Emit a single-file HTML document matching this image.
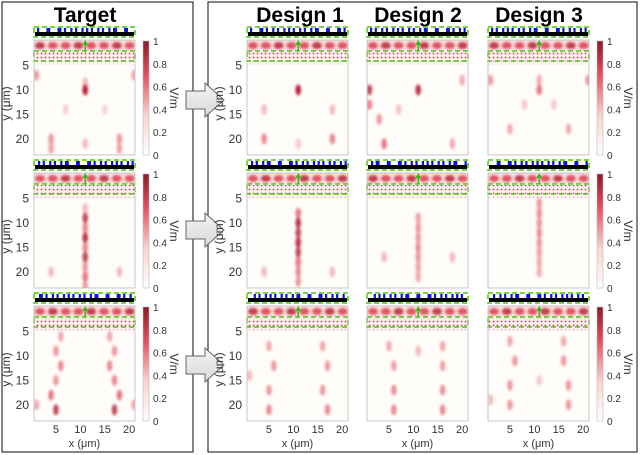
<!DOCTYPE html>
<html><head><meta charset="utf-8"><style>
body{margin:0;background:#fff;}
svg{display:block;font-family:"Liberation Sans",Arial,sans-serif;}
</style></head><body>
<svg id="fig" width="640" height="455" viewBox="0 0 640 455">
<defs>
<filter id="blur" x="-50%" y="-50%" width="200%" height="200%"><feGaussianBlur stdDeviation="1.4"/></filter>
<linearGradient id="cbg" x1="0" y1="1" x2="0" y2="0">
<stop offset="0" stop-color="#ffffff"/><stop offset="0.35" stop-color="#f8d4cf"/><stop offset="0.7" stop-color="#e45060"/><stop offset="1" stop-color="#8b1a2a"/></linearGradient>
<pattern id="dots" width="4" height="4" patternUnits="userSpaceOnUse"><rect width="4" height="4" fill="#fdf0ee"/><circle cx="1.5" cy="1.5" r="0.9" fill="#d93a48"/></pattern>
<linearGradient id="arr" x1="0" y1="0" x2="0" y2="1"><stop offset="0" stop-color="#f4f4f4"/><stop offset="1" stop-color="#d8d8d8"/></linearGradient>
</defs>
<rect x="2" y="2" width="191" height="450" fill="none" stroke="#333" stroke-width="1.2"/>
<rect x="208" y="2" width="429" height="450" fill="none" stroke="#333" stroke-width="1.2"/>
<g id="main"></g>
</svg>
<script>
// ---- data ----
const columnTitles = ["Target","Design 1","Design 2","Design 3"];
const yTicks = [5,10,15,20];
const xTicks = [5,10,15,20];
const cbTicks = [0,0.2,0.4,0.6,0.8,1];
// hotspot data per panel: [x um, y um, intensity]
const spotsTarget1 = [[11,10,1],[11,8.5,0.3],[1,7,0.5],[21,7,0.4],[4,20,0.5],[18,20,0.5],[4,22,0.45],[18,22,0.45],[11,21,0.3],[7,14,0.15],[15,14,0.15]];
const spotsTarget2 = [[11,9,0.8],[11,11,0.6],[11,13,0.9],[11,15,0.6],[11,17,0.8],[11,19,0.5],[11,21,0.7],[11,23,0.5],[11,7,0.3],[4,20,0.3],[18,20,0.3]];
const spotsTarget3 = [[6,6,0.4],[5,9,0.5],[6,12,0.6],[5,15,0.5],[4,18,0.7],[5,21,0.8],[16,6,0.4],[17,9,0.5],[16,12,0.6],[17,15,0.6],[18,18,0.7],[17,21,0.8],[1,20,0.4],[21,20,0.4]];
const spotsD1r1 = [[11,10,1],[4,20,0.6],[18,20,0.6],[4,14,0.3],[18,14,0.3],[11,21,0.2]];
const spotsD2r1 = [[11,10,0.9],[1,10,0.8],[1,13,0.6],[3,16,0.5],[4,21,0.7],[18,21,0.4],[20,8,0.4],[7,14,0.25]];
const spotsD3r1 = [[11,10,0.7],[11,8,0.4],[1,8,0.5],[21,8,0.5],[5,18,0.4],[17,18,0.4],[8,13,0.2],[14,13,0.2]];
const spotsD1r2 = [[11,8,0.7],[11,10,0.9],[11,12,0.8],[11,14,0.9],[11,16,0.8],[11,18,0.7],[11,20,0.6],[11,22,0.5],[4,20,0.3],[18,20,0.3]];
const spotsD2r2 = [[11,9,0.45],[11,11,0.5],[11,13,0.5],[11,15,0.55],[11,17,0.5],[11,19,0.45],[11,21,0.4],[4,17,0.3],[18,17,0.3]];
const spotsD3r2 = [[11,6,0.5],[11,8,0.55],[11,10,0.5],[11,12,0.55],[11,14,0.5],[11,16,0.45],[11,18,0.4],[11,20,0.35]];
const spotsD1r3 = [[5,8,0.4],[6,12,0.5],[5,17,0.5],[5,21,0.6],[16,8,0.4],[17,12,0.5],[16,17,0.5],[17,21,0.6],[1,14,0.3]];
const spotsD2r3 = [[5,8,0.4],[6,12,0.45],[6,17,0.55],[6,21,0.6],[16,8,0.4],[16,12,0.45],[16,17,0.55],[16,21,0.6],[11,9,0.3]];
const spotsD3r3 = [[5,7,0.4],[6,11,0.5],[5,16,0.5],[5,20,0.5],[16,7,0.4],[16,11,0.5],[17,16,0.5],[17,20,0.5],[1,19,0.3],[11,15,0.2]];
const panels = [
 [spotsTarget1,spotsD1r1,spotsD2r1,spotsD3r1],
 [spotsTarget2,spotsD1r2,spotsD2r2,spotsD3r2],
 [spotsTarget3,spotsD1r3,spotsD2r3,spotsD3r3]];

const NS="http://www.w3.org/2000/svg";
const main=document.getElementById('main');
function mk(tag,attrs,parent,text){const e=document.createElementNS(NS,tag);for(const k in attrs)e.setAttribute(k,attrs[k]);if(text!==undefined)e.textContent=text;(parent||main).appendChild(e);return e;}

const colX=[34,247,367,488], PW=101, PH=115;
const rowY=[40,173,306];
const xDom=[0.5,21.2], yDom=[-0.2,23.3];
function sx(c,v){return colX[c]+(v-xDom[0])/(xDom[1]-xDom[0])*PW;}
function sy(r,v){return rowY[r]+(v-yDom[0])/(yDom[1]-yDom[0])*PH;}
const titleX=[85,300,418,539];

columnTitles.forEach((t,c)=>{
  const el=mk('text',{x:titleX[c],y:22,'text-anchor':'middle','font-size':'21','font-weight':'bold',fill:'#000'},main,t);
  
  
});

[100,230,365].forEach((cy,i)=>{
  const a=mk('path',{d:`M186 ${cy-9} H205 V${cy-17} L224 ${cy} L205 ${cy+17} V${cy+9} H186 Z`,fill:'url(#arr)',stroke:'#666','stroke-width':'1'});
  
  
});

for(let r=0;r<3;r++){
  for(let c=0;c<4;c++){
    const g=mk('g',{});
    
    
    const x0=colX[c], y0=rowY[r];
    const sY=y0-13;
    const bar=mk('rect',{x:x0+1,y:sY+5,width:PW-2,height:4,fill:'#000'},g);
    
    
    for(let i=0;i<26;i++){
      const bx=x0+3+i*3.7+((i*7+c*3+r)%3);
      if(((i*5+c+r*2)%7)<5) mk('rect',{x:bx,y:sY+1,width:2.2,height:4,fill:'#1010e0'},g);
    }
    mk('rect',{x:x0,y:sY,width:PW,height:10,fill:'none',stroke:'#4cc414','stroke-width':'1.5','stroke-dasharray':'5,3'},g);
    mk('rect',{x:x0,y:y0,width:PW,height:PH,fill:'#fffdf9'},g);
    const clip=mk('clipPath',{id:'cl'+r+c},g);
    mk('rect',{x:x0,y:y0,width:PW,height:PH},clip);
    const inner=mk('g',{'clip-path':'url(#cl'+r+c+')'},g);
    mk('rect',{x:x0,y:y0,width:PW,height:11,fill:'#fbe2e0'},inner);
    const bg=mk('g',{filter:'url(#blur)'},inner);
    for(let i=0;i<8;i++){
      mk('ellipse',{cx:x0+6+i*12.8,cy:y0+5.5,rx:5,ry:3.5,fill:((i+r+c)%3===0?'#b81e34':'#dc3a4c'),opacity:0.85},bg);
    }
    mk('rect',{x:x0,y:y0+12,width:PW,height:9,fill:'url(#dots)'},inner);
    mk('rect',{x:x0,y:y0+21,width:PW,height:4,fill:'url(#dots)',opacity:0.4},inner);
    const sg=mk('g',{filter:'url(#blur)'},inner);
    panels[r][c].forEach(p=>{
      const e=mk('ellipse',{cx:sx(c,p[0]),cy:sy(r,p[1]),rx:2.8,ry:5.5,fill:p[2]>0.75?'#b3162e':'#e04050','fill-opacity':Math.min(1,p[2]*0.85+0.1)},sg);
      
      
    });
    mk('rect',{x:x0,y:y0+11,width:PW,height:10,fill:'none',stroke:'#4cc414','stroke-width':'1.5','stroke-dasharray':'5,3'},g);
    const mx=sx(c,11);
    mk('line',{x1:mx,y1:y0+11,x2:mx,y2:y0+3,stroke:'#3cb814','stroke-width':'1.5'},g);
    mk('path',{d:`M${mx-3} ${y0+5} L${mx} ${y0} L${mx+3} ${y0+5} Z`,fill:'#3cb814'},g);
    mk('rect',{x:x0,y:y0,width:PW,height:PH,fill:'none',stroke:'#bbb','stroke-width':'0.8'},g);
    if(c<=1){
      yTicks.forEach(t=>{
        const tl=mk('text',{x:x0-5,y:sy(r,t)+4,'text-anchor':'end','font-size':'12',fill:'#333'},g,t);
        
        
      });
      const yl=mk('text',{x:0,y:0,transform:`translate(${x0-24},${y0+PH/2+6}) rotate(-90)`,'text-anchor':'middle','font-size':'12',fill:'#333'},g,'y (μm)');
      
      
    }
    if(r===2){
      xTicks.forEach(t=>{
        const tl=mk('text',{x:sx(c,t),y:y0+PH+12,'text-anchor':'middle','font-size':'11',fill:'#333'},g,t);
        
        
      });
      const xl=mk('text',{x:x0+PW/2,y:y0+PH+26,'text-anchor':'middle','font-size':'11',fill:'#333'},g,'x (μm)');
      
      
    }
  }
  [143,597].forEach((cx,k)=>{
    const cg=mk('g',{});
    
    
    const top=rowY[r]+1, h=PH-1;
    mk('rect',{x:cx,y:top,width:6,height:h,fill:'url(#cbg)',stroke:'#bbb','stroke-width':'0.6'},cg);
    cbTicks.forEach(t=>{
      mk('text',{x:cx+10,y:top+h-t*h+4,'font-size':'10',fill:'#333'},cg,t);
    });
    mk('text',{x:0,y:0,transform:`translate(${cx+27},${top+h/2}) rotate(90)`,'text-anchor':'middle','font-size':'12',fill:'#333'},cg,'V/m');
  });
}
</script>
</body></html>
